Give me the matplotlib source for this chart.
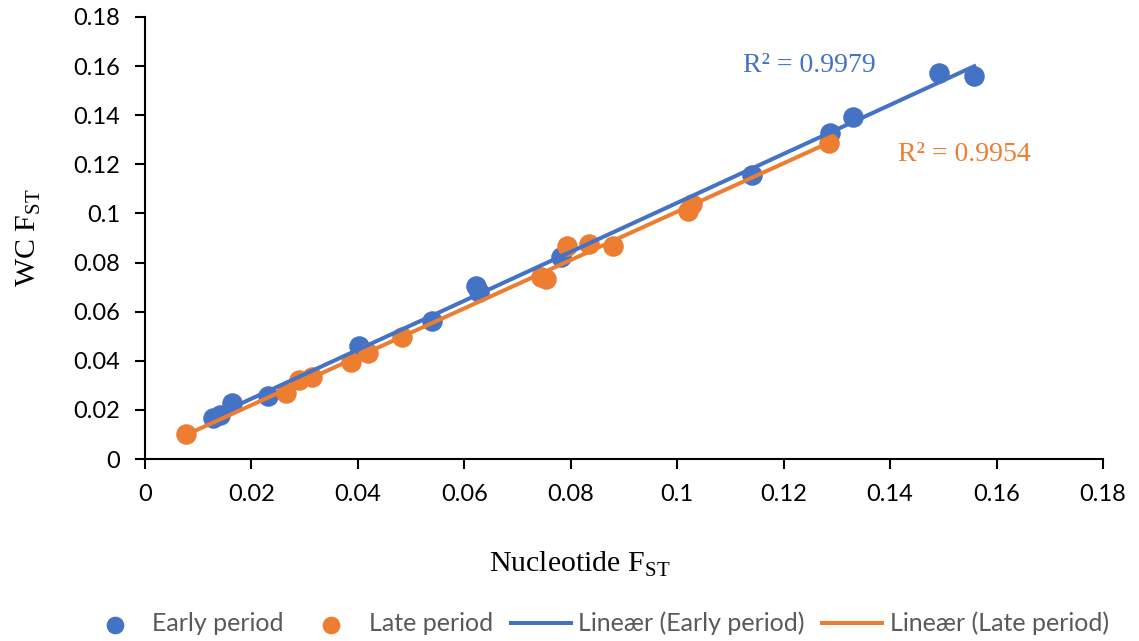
import matplotlib.pyplot as plt
import numpy as np

# Early period (blue) and late period (orange) F_ST values
early_x = [0.0128, 0.0141, 0.0164, 0.0232, 0.0402, 0.0539, 0.0622, 0.0628,
           0.0782, 0.1141, 0.1287, 0.1330, 0.1492, 0.1558]
early_y = [0.0167, 0.0178, 0.0228, 0.0255, 0.0460, 0.0562, 0.0704, 0.0680,
           0.0822, 0.1156, 0.1327, 0.1393, 0.1570, 0.1560]

late_x = [0.0077, 0.0265, 0.0290, 0.0313, 0.0387, 0.0419, 0.0483, 0.0744,
          0.0753, 0.0793, 0.0835, 0.0879, 0.1020, 0.1028, 0.1285]
late_y = [0.0102, 0.0270, 0.0320, 0.0332, 0.0397, 0.0430, 0.0497, 0.0740,
          0.0733, 0.0867, 0.0875, 0.0866, 0.1010, 0.1040, 0.1285]

r2_early = "R² = 0.9979"
r2_late = "R² = 0.9954"

blue = '#4472C4'
orange = '#ED7D31'

plt.rcParams['mathtext.fontset'] = 'custom'
plt.rcParams['mathtext.rm'] = 'Liberation Serif'
plt.rcParams['font.family'] = ['Lato', 'DejaVu Sans']

fig = plt.figure(figsize=(11.39, 6.41), dpi=100)
ax = fig.add_axes([0.1273, 0.2839, 0.8411, 0.6896])

ax.scatter(early_x, early_y, s=190, color=blue, zorder=3, label='Early period')
ax.scatter(late_x, late_y, s=190, color=orange, zorder=3, label='Late period')

# linear trendlines
for xs, ys, c, lab in [(early_x, early_y, blue, 'Lineær (Early period)'),
                       (late_x, late_y, orange, 'Lineær (Late period)')]:
    k, m = np.polyfit(xs, ys, 1)
    xx = np.array([min(xs), max(xs)])
    ax.plot(xx, k * xx + m, color=c, lw=2.9, zorder=4, label=lab)

ax.text(0.1248, 0.1604, r2_early, color=blue, fontsize=20,
        family='Liberation Serif', ha='center', va='center')
ax.text(0.1540, 0.1238, r2_late, color=orange, fontsize=20,
        family='Liberation Serif', ha='center', va='center')

ax.set_xlim(0, 0.18)
ax.set_ylim(0, 0.18)
ticks = [0, 0.02, 0.04, 0.06, 0.08, 0.1, 0.12, 0.14, 0.16, 0.18]
labels = ['0', '0.02', '0.04', '0.06', '0.08', '0.1', '0.12', '0.14', '0.16', '0.18']
ax.set_xticks(ticks)
ax.set_xticklabels(labels)
ax.set_yticks(ticks)
ax.set_yticklabels(labels)
ax.tick_params(labelsize=17, direction='out', length=7, width=1.5)
ax.tick_params(axis='y', pad=11)
ax.tick_params(axis='x', pad=11)

for s in ['top', 'right']:
    ax.spines[s].set_visible(False)
for s in ['left', 'bottom']:
    ax.spines[s].set_linewidth(1.5)

ax.set_xlabel(r'Nucleotide F$_{\mathrm{ST}}$', fontsize=21.5,
              family='Liberation Serif', labelpad=30)
ax.xaxis.set_label_coords(0.454, -0.205)
ax.set_ylabel(r'WC F$_{\mathrm{ST}}$', fontsize=21.5,
              family='Liberation Serif', labelpad=22)

leg = fig.legend(loc='center', bbox_to_anchor=(0.524, 0.027), ncol=4,
                 frameon=False, fontsize=18, handlelength=2.4,
                 columnspacing=0.7, handletextpad=0.3, markerscale=0.85)
for t in leg.get_texts():
    t.set_color('#595959')

fig.savefig('out.png', dpi=100)
